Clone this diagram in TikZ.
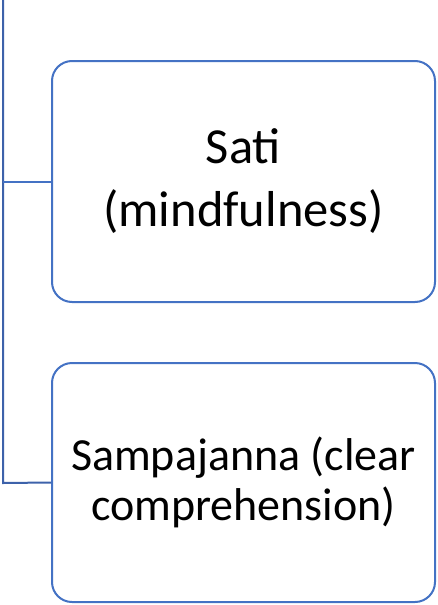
\documentclass[tikz,border=0pt]{standalone}
\usepackage{fontspec}
\setmainfont{Carlito}
\definecolor{boxblue}{HTML}{4472C4}
\definecolor{linkblue}{HTML}{3D62AA}
\begin{document}
\begin{tikzpicture}[x=1pt,y=-1pt,
  itembox/.style={draw=boxblue,line width=2pt,rounded corners=20pt,fill=white,
    minimum width=383pt,align=center,inner sep=0pt},
  link/.style={draw=boxblue,line width=2pt},
  trunk/.style={draw=linkblue,line width=2pt}]
\useasboundingbox (0,0) rectangle (437,605);
\node[itembox,minimum height=241pt,font=\fontsize{50.5}{63}\selectfont] (sati) at (243.5,181.5) {Sati\\(mindfulness)};
\node[itembox,minimum height=239pt,font=\fontsize{46}{50}\selectfont] (samp) at (243.5,482.5) {Sampajanna (clear\\comprehension)};
\coordinate (top) at (3,0);
\draw[trunk] (top) -- (3,483) -- (samp.west);
\draw[link] (3,181.5) -- (sati.west);
\end{tikzpicture}
\end{document}
